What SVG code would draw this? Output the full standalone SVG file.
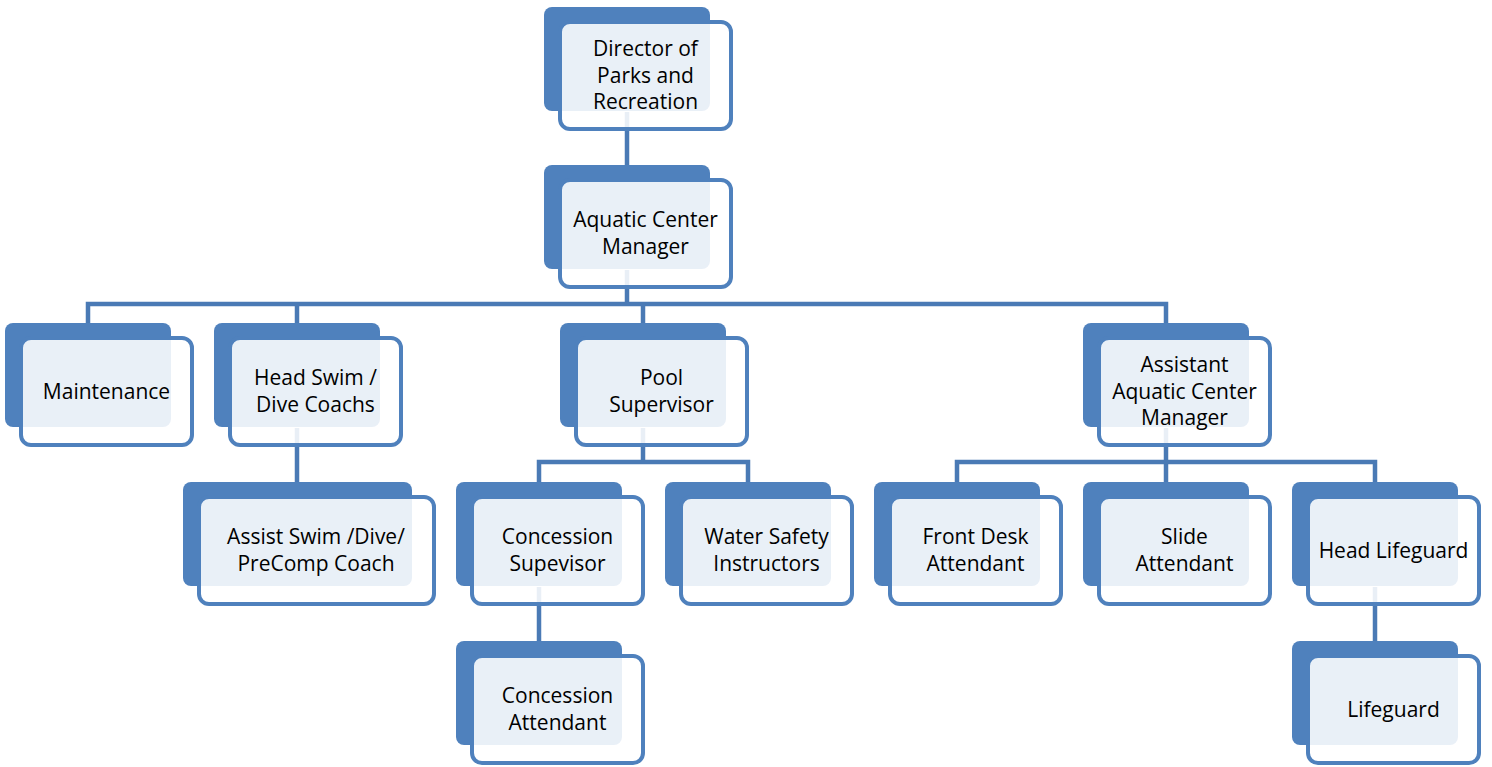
<svg xmlns="http://www.w3.org/2000/svg" width="1492" height="767" viewBox="0 0 1492 767">
<style>
.back{fill:#4F81BD;}
.front{fill:#FFFFFF;fill-opacity:0.88;stroke:#4F81BD;stroke-width:4;}
.lbl{font-family:"Open Sans","Noto Sans",sans-serif;font-size:21px;fill:#000000;text-anchor:middle;}
.conn{fill:none;stroke:#4A7AB5;stroke-width:4.5;stroke-linejoin:miter;stroke-linecap:butt;}
</style>
<rect width="1492" height="767" fill="#FFFFFF"/>
<g id="connectors">
<path class="conn" d="M627 112V166"/>
<path class="conn" d="M627 270V304"/>
<path class="conn" d="M88 324V304H1166V324"/>
<path class="conn" d="M297 304V324"/>
<path class="conn" d="M643 304V324"/>
<path class="conn" d="M297 428V483"/>
<path class="conn" d="M643 428V462"/>
<path class="conn" d="M539 483V462H748V483"/>
<path class="conn" d="M1166 428V483"/>
<path class="conn" d="M957 483V462H1375V483"/>
<path class="conn" d="M539 587V642"/>
<path class="conn" d="M1375 587V642"/>
</g>
<g id="director">
<rect class="back" x="544" y="7" width="166" height="104" rx="8"/>
<rect class="front" x="560" y="22" width="171" height="107" rx="10"/>
<text class="lbl" x="645.5" y="56">Director of</text>
<text class="lbl" x="645.5" y="82.5">Parks and</text>
<text class="lbl" x="645.5" y="109">Recreation</text>
</g>
<g id="aquatic-center-manager">
<rect class="back" x="544" y="165" width="166" height="104" rx="8"/>
<rect class="front" x="560" y="180" width="171" height="107" rx="10"/>
<text class="lbl" x="645.5" y="227.25">Aquatic Center</text>
<text class="lbl" x="645.5" y="253.75">Manager</text>
</g>
<g id="maintenance">
<rect class="back" x="5" y="323" width="166" height="104" rx="8"/>
<rect class="front" x="21" y="338" width="171" height="107" rx="10"/>
<text class="lbl" x="106.5" y="398.5">Maintenance</text>
</g>
<g id="head-swim">
<rect class="back" x="214" y="323" width="166" height="104" rx="8"/>
<rect class="front" x="230" y="338" width="171" height="107" rx="10"/>
<text class="lbl" x="315.5" y="385.25">Head Swim /</text>
<text class="lbl" x="315.5" y="411.75">Dive Coachs</text>
</g>
<g id="pool-supervisor">
<rect class="back" x="560" y="323" width="166" height="104" rx="8"/>
<rect class="front" x="576" y="338" width="171" height="107" rx="10"/>
<text class="lbl" x="661.5" y="385.25">Pool</text>
<text class="lbl" x="661.5" y="411.75">Supervisor</text>
</g>
<g id="assistant-manager">
<rect class="back" x="1083" y="323" width="166" height="104" rx="8"/>
<rect class="front" x="1099" y="338" width="171" height="107" rx="10"/>
<text class="lbl" x="1184.5" y="372">Assistant</text>
<text class="lbl" x="1184.5" y="398.5">Aquatic Center</text>
<text class="lbl" x="1184.5" y="425">Manager</text>
</g>
<g id="assist-swim">
<rect class="back" x="183" y="482" width="229" height="104" rx="8"/>
<rect class="front" x="199" y="497" width="235" height="107" rx="10"/>
<text class="lbl" x="316" y="544.25">Assist Swim /Dive/</text>
<text class="lbl" x="316" y="570.75">PreComp Coach</text>
</g>
<g id="concession-supervisor">
<rect class="back" x="456" y="482" width="166" height="104" rx="8"/>
<rect class="front" x="472" y="497" width="171" height="107" rx="10"/>
<text class="lbl" x="557.5" y="544.25">Concession</text>
<text class="lbl" x="557.5" y="570.75">Supevisor</text>
</g>
<g id="water-safety">
<rect class="back" x="665" y="482" width="166" height="104" rx="8"/>
<rect class="front" x="681" y="497" width="171" height="107" rx="10"/>
<text class="lbl" x="766.5" y="544.25">Water Safety</text>
<text class="lbl" x="766.5" y="570.75">Instructors</text>
</g>
<g id="front-desk">
<rect class="back" x="874" y="482" width="166" height="104" rx="8"/>
<rect class="front" x="890" y="497" width="171" height="107" rx="10"/>
<text class="lbl" x="975.5" y="544.25">Front Desk</text>
<text class="lbl" x="975.5" y="570.75">Attendant</text>
</g>
<g id="slide">
<rect class="back" x="1083" y="482" width="166" height="104" rx="8"/>
<rect class="front" x="1099" y="497" width="171" height="107" rx="10"/>
<text class="lbl" x="1184.5" y="544.25">Slide</text>
<text class="lbl" x="1184.5" y="570.75">Attendant</text>
</g>
<g id="head-lifeguard">
<rect class="back" x="1292" y="482" width="166" height="104" rx="8"/>
<rect class="front" x="1308" y="497" width="171" height="107" rx="10"/>
<text class="lbl" x="1393.5" y="557.5">Head Lifeguard</text>
</g>
<g id="concession-attendant">
<rect class="back" x="456" y="641" width="166" height="104" rx="8"/>
<rect class="front" x="472" y="656" width="171" height="107" rx="10"/>
<text class="lbl" x="557.5" y="703.25">Concession</text>
<text class="lbl" x="557.5" y="729.75">Attendant</text>
</g>
<g id="lifeguard">
<rect class="back" x="1292" y="641" width="166" height="104" rx="8"/>
<rect class="front" x="1308" y="656" width="171" height="107" rx="10"/>
<text class="lbl" x="1393.5" y="716.5">Lifeguard</text>
</g>
</svg>
